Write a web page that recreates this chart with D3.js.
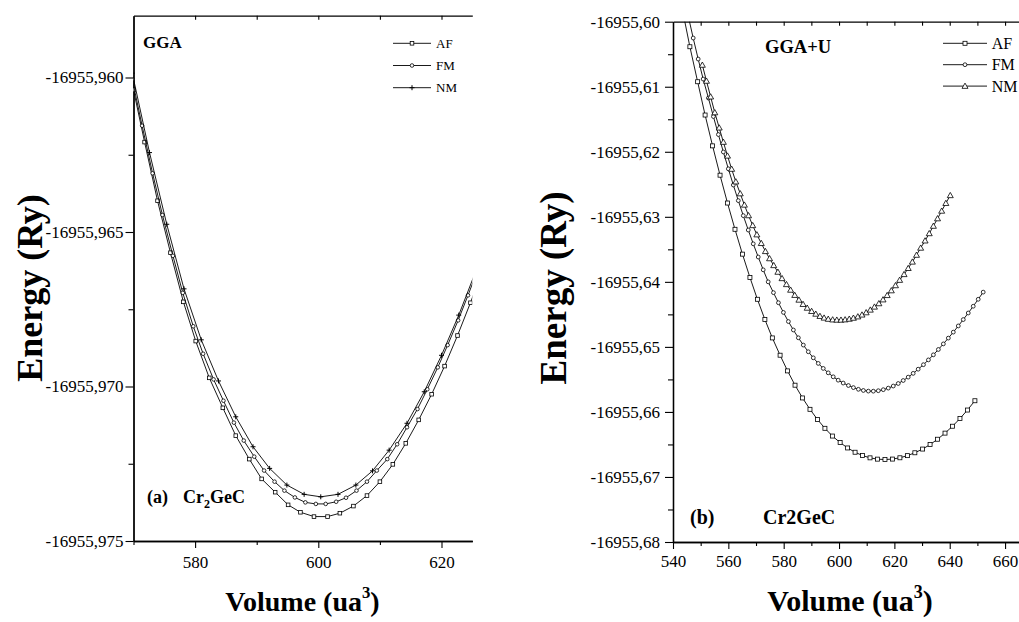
<!DOCTYPE html>
<html>
<head>
<meta charset="utf-8">
<script src="https://cdn.jsdelivr.net/npm/d3@7"></script>
<style>
  body { margin: 0; background: #fff; }
  svg { display: block; }
  text { font-family: "Liberation Serif", "Times New Roman", serif; fill: #000; }
</style>
</head>
<body>
<svg></svg>
<script>
// ---- data, panel (a) GGA ----
const legendNames = ["AF", "FM", "NM"];

const ggaVolAF = [570.0, 571.8, 573.9, 576.0, 578.1, 580.1, 582.3, 584.5, 586.6, 588.8, 590.8, 593.0, 595.1, 597.1,
  599.3, 601.5, 603.5, 605.7, 607.9, 610.0, 612.1, 614.2, 616.3, 618.4, 620.5, 622.6, 624.7, 626.8];
const ggaEnAF = [-16955.96040, -16955.96209, -16955.96399, -16955.96567, -16955.96726, -16955.96853, -16955.96972,
  -16955.97069, -16955.97159, -16955.97235, -16955.97299, -16955.97342, -16955.97383, -16955.97407, -16955.97421,
  -16955.97421, -16955.97410, -16955.97387, -16955.97353, -16955.97308, -16955.97252, -16955.97184, -16955.97108,
  -16955.97025, -16955.96934, -16955.96835, -16955.96729, -16955.96617];

const ggaVolFM = [569.8, 571.4, 573.1, 574.7, 576.4, 578.0, 579.7, 581.3, 583.0, 584.6, 586.3, 587.9, 589.6, 591.2,
  592.9, 594.5, 596.2, 597.9, 599.6, 601.2, 602.9, 604.5, 606.2, 607.9, 609.5, 611.2, 612.8, 614.4, 616.1, 617.7,
  619.4, 621.0, 622.7, 624.3, 626.0];
const ggaEnFM = [-16955.96006, -16955.96156, -16955.96310, -16955.96445, -16955.96577, -16955.96697, -16955.96805,
  -16955.96894, -16955.96977, -16955.97046, -16955.97117, -16955.97175, -16955.97227, -16955.97272, -16955.97308,
  -16955.97337, -16955.97359, -16955.97375, -16955.97380, -16955.97380, -16955.97373, -16955.97360, -16955.97337,
  -16955.97308, -16955.97272, -16955.97235, -16955.97187, -16955.97132, -16955.97073, -16955.97009, -16955.96938,
  -16955.96866, -16955.96786, -16955.96705, -16955.96616];

const ggaVolNM = [569.8, 572.6, 575.4, 578.2, 581.0, 583.8, 586.6, 589.4, 592.1, 594.9, 597.7, 600.4, 603.2, 606.1,
  608.8, 611.5, 614.4, 617.2, 620.0, 622.8, 625.6];
const ggaEnNM = [-16955.95986, -16955.96243, -16955.96475, -16955.96684, -16955.96849, -16955.96982, -16955.97098,
  -16955.97195, -16955.97265, -16955.97319, -16955.97349, -16955.97357, -16955.97349, -16955.97319, -16955.97273,
  -16955.97206, -16955.97119, -16955.97017, -16955.96899, -16955.96769, -16955.96625];

const ggaXMajor = [580, 600, 620];
const ggaXMinor = [570, 590, 610];
const ggaXTop = [580, 590, 600, 610, 620];
const ggaYMajor = [-16955.960, -16955.965, -16955.970, -16955.975];
const ggaYMinor = [-16955.9625, -16955.9675, -16955.9725];

// ---- data, panel (b) GGA+U ----
const ggauVolAF = [543.4, 546.1, 548.9, 551.6, 554.3, 557.0, 559.7, 562.4, 565.1, 567.8, 570.5, 573.2, 575.9, 578.7,
  581.4, 584.1, 586.8, 589.5, 592.2, 594.9, 597.6, 600.4, 603.1, 605.8, 608.5, 611.2, 613.9, 616.6, 619.3, 622.0,
  624.7, 627.4, 630.2, 632.9, 635.6, 638.3, 641.0, 643.7, 646.4, 649.1];
const ggauEnAF = [-16955.59815, -16955.60385, -16955.60923, -16955.61435, -16955.61909, -16955.62360, -16955.62788,
  -16955.63192, -16955.63574, -16955.63932, -16955.64268, -16955.64578, -16955.64862, -16955.65128, -16955.65369,
  -16955.65589, -16955.65785, -16955.65960, -16955.66115, -16955.66252, -16955.66371, -16955.66471, -16955.66554,
  -16955.66620, -16955.66671, -16955.66706, -16955.66726, -16955.66732, -16955.66725, -16955.66705, -16955.66672,
  -16955.66628, -16955.66571, -16955.66502, -16955.66420, -16955.66326, -16955.66220, -16955.66102, -16955.65971,
  -16955.65828];

const ggauVolFM = [545.5, 547.3, 549.1, 550.9, 552.8, 554.6, 556.4, 558.2, 560.0, 561.8, 563.6, 565.4, 567.2, 569.0,
  570.8, 572.6, 574.4, 576.3, 578.1, 579.9, 581.7, 583.5, 585.3, 587.1, 588.9, 590.7, 592.5, 594.3, 596.1, 597.9,
  599.7, 601.5, 603.4, 605.2, 607.0, 608.8, 610.6, 612.4, 614.2, 616.0, 617.8, 619.6, 621.4, 623.2, 625.0, 626.8,
  628.6, 630.5, 632.3, 634.1, 635.9, 637.7, 639.5, 641.3, 643.1, 644.9, 646.7, 648.5, 650.3, 652.1];
const ggauEnFM = [-16955.59912, -16955.60251, -16955.60574, -16955.60882, -16955.61174, -16955.61458, -16955.61735,
  -16955.62003, -16955.62262, -16955.62511, -16955.62751, -16955.62982, -16955.63203, -16955.63415, -16955.63618,
  -16955.63815, -16955.64000, -16955.64166, -16955.64321, -16955.64470, -16955.64610, -16955.64740, -16955.64860,
  -16955.64972, -16955.65075, -16955.65168, -16955.65254, -16955.65331, -16955.65399, -16955.65460, -16955.65512,
  -16955.65556, -16955.65594, -16955.65626, -16955.65652, -16955.65670, -16955.65680, -16955.65681, -16955.65674,
  -16955.65658, -16955.65634, -16955.65602, -16955.65563, -16955.65517, -16955.65465, -16955.65407, -16955.65343,
  -16955.65274, -16955.65200, -16955.65122, -16955.65040, -16955.64954, -16955.64865, -16955.64773, -16955.64678,
  -16955.64580, -16955.64479, -16955.64375, -16955.64268, -16955.64158];

const ggauVolNM = [550.6, 552.1, 553.6, 555.1, 556.7, 558.2, 559.7, 561.2, 562.7, 564.3, 565.8, 567.3, 568.8, 570.3,
  571.9, 573.4, 574.9, 576.4, 577.9, 579.4, 581.0, 582.5, 584.0, 585.5, 587.0, 588.5, 590.1, 591.6, 593.1, 594.6,
  596.1, 597.7, 599.2, 600.7, 602.2, 603.7, 605.2, 606.8, 608.3, 609.8, 611.3, 612.8, 614.4, 615.9, 617.4, 618.9,
  620.4, 621.9, 623.5, 625.0, 626.5, 628.0, 629.5, 631.1, 632.6, 634.1, 635.6, 637.1, 638.6, 640.2];
const ggauEnNM = [-16955.60666, -16955.60912, -16955.61154, -16955.61397, -16955.61631, -16955.61851, -16955.62063,
  -16955.62266, -16955.62460, -16955.62643, -16955.62817, -16955.62980, -16955.63132, -16955.63274, -16955.63407,
  -16955.63531, -16955.63641, -16955.63747, -16955.63849, -16955.63947, -16955.64039, -16955.64125, -16955.64205,
  -16955.64278, -16955.64344, -16955.64402, -16955.64452, -16955.64494, -16955.64528, -16955.64554, -16955.64572,
  -16955.64582, -16955.64586, -16955.64586, -16955.64581, -16955.64571, -16955.64556, -16955.64535, -16955.64507,
  -16955.64472, -16955.64431, -16955.64385, -16955.64333, -16955.64274, -16955.64207, -16955.64134, -16955.64056,
  -16955.63973, -16955.63885, -16955.63791, -16955.63693, -16955.63588, -16955.63479, -16955.63368, -16955.63256,
  -16955.63142, -16955.63027, -16955.62910, -16955.62791, -16955.62671];

const ggauXMajor = [540, 560, 580, 600, 620, 640, 660];
const ggauXMinor = [550, 570, 590, 610, 630, 650];
const ggauXTop = [550, 560, 570, 580, 590, 600, 610, 620, 630, 640, 650, 660];
const ggauYMajor = [-16955.60, -16955.61, -16955.62, -16955.63, -16955.64, -16955.65, -16955.66, -16955.67, -16955.68];
const ggauYMinor = [-16955.605, -16955.615, -16955.625, -16955.635, -16955.645, -16955.655, -16955.665, -16955.675];

// ---- drawing ----
const serif = '"Liberation Serif", "Times New Roman", serif';
let svg = d3.select("svg").attr("width", 1019).attr("height", 622);

function drawMarker(sel, type, cx, cy, size) {
    if (type === "square") {
        sel.append("rect")
            .attr("x", cx - size / 2).attr("y", cy - size / 2)
            .attr("width", size).attr("height", size)
            .style("fill", "#fff").style("stroke", "#000").style("stroke-width", 0.8);
    } else if (type === "circle") {
        sel.append("circle")
            .attr("cx", cx).attr("cy", cy).attr("r", size / 2)
            .style("fill", "#fff").style("stroke", "#000").style("stroke-width", 0.8);
    } else if (type === "plus") {
        const h = size / 2;
        sel.append("path")
            .attr("d", `M${cx - h},${cy}H${cx + h}M${cx},${cy - h}V${cy + h}`)
            .style("stroke", "#000").style("stroke-width", 1);
    } else if (type === "triangle") {
        const h = size / 2;
        sel.append("path")
            .attr("d", `M${cx},${cy - h}L${cx + h},${cy + h * 0.75}L${cx - h},${cy + h * 0.75}Z`)
            .style("fill", "#fff").style("stroke", "#000").style("stroke-width", 0.8);
    }
}

function styleAxis(g, fontSize) {
    g.attr("font-family", serif);
    g.select(".domain").style("stroke", "#000").style("stroke-width", 1.3);
    g.selectAll(".tick line").style("stroke", "#000").style("stroke-width", 1.1);
    g.selectAll(".tick text")
        .style("font-family", serif)
        .style("font-size", fontSize + "px").style("fill", "#000");
}

function drawPanel(p) {
    const x = d3.scaleLinear().domain(p.xDomain).range([p.left, p.right]);
    const y = d3.scaleLinear().domain(p.yDomain).range([p.bottom, p.top]);

    // axes
    const bottom = svg.append("g").attr("transform", `translate(0,${p.bottom})`)
        .call(d3.axisBottom(x).tickValues(p.xMajor).tickSize(7).tickSizeOuter(0).tickPadding(p.xPad)
            .tickFormat(d3.format("d")));
    styleAxis(bottom, 17);
    const bottomMinor = svg.append("g").attr("transform", `translate(0,${p.bottom})`)
        .call(d3.axisBottom(x).tickValues(p.xMinor).tickSize(4).tickSizeOuter(0).tickFormat(""));
    styleAxis(bottomMinor, 17);

    const top = svg.append("g").attr("transform", `translate(0,${p.top})`)
        .call(d3.axisTop(x).tickValues(p.xTop).tickSize(-4).tickSizeOuter(0).tickFormat(""));
    styleAxis(top, 17);

    const left = svg.append("g").attr("transform", `translate(${p.left},0)`)
        .call(d3.axisLeft(y).tickValues(p.yMajor).tickSize(8).tickSizeOuter(0).tickPadding(p.yPad)
            .tickFormat((d) => d.toFixed(p.yDigits).replace(".", ",")));
    styleAxis(left, 17);
    const leftMinor = svg.append("g").attr("transform", `translate(${p.left},0)`)
        .call(d3.axisLeft(y).tickValues(p.yMinor).tickSize(5).tickSizeOuter(0).tickFormat(""));
    styleAxis(leftMinor, 17);

    // curves
    svg.append("clipPath").attr("id", p.id + "-clip")
        .append("rect")
        .attr("x", p.left).attr("y", p.top)
        .attr("width", p.right - p.left).attr("height", p.bottom - p.top);
    const plot = svg.append("g").attr("clip-path", `url(#${p.id}-clip)`);
    const line = d3.line().x((d) => x(d[0])).y((d) => y(d[1]));

    p.series.forEach((s) => {
        const pts = s.vol.map((v, i) => [v, s.en[i]]);
        plot.append("path").attr("d", line(pts))
            .style("fill", "none").style("stroke", "#000").style("stroke-width", 0.9);
        pts.forEach((d) => drawMarker(plot, s.marker, x(d[0]), y(d[1]), s.size));
    });

    // legend
    const lg = p.legend;
    p.series.forEach((s, i) => {
        const ly = lg.y + i * lg.dy;
        svg.append("line").attr("x1", lg.x1).attr("x2", lg.x2).attr("y1", ly).attr("y2", ly)
            .style("stroke", "#000").style("stroke-width", 0.9);
        drawMarker(svg, s.marker, lg.xm, ly, s.size);
        svg.append("text").attr("x", lg.xt).attr("y", ly + lg.font * 0.35)
            .style("font-size", lg.font + "px").text(legendNames[i]);
    });
}

drawPanel({
    id: "gga",
    xDomain: [570, 625], yDomain: [-16955.975, -16955.958],
    left: 133.5, right: 472.3, top: 15.7, bottom: 541,
    xMajor: ggaXMajor, xMinor: ggaXMinor, xTop: ggaXTop,
    yMajor: ggaYMajor, yMinor: ggaYMinor, yDigits: 3,
    xPad: 8, yPad: 2,
    series: [
        { vol: ggaVolAF, en: ggaEnAF, marker: "square", size: 3.6 },
        { vol: ggaVolFM, en: ggaEnFM, marker: "circle", size: 3.6 },
        { vol: ggaVolNM, en: ggaEnNM, marker: "plus", size: 5 }
    ],
    legend: { x1: 393, x2: 431, xm: 412, xt: 436, y: 43.3, dy: 22.2, font: 13 }
});

drawPanel({
    id: "ggau",
    xDomain: [540, 665], yDomain: [-16955.68, -16955.60],
    left: 673, right: 1018.9, top: 21.7, bottom: 542,
    xMajor: ggauXMajor, xMinor: ggauXMinor, xTop: ggauXTop,
    yMajor: ggauYMajor, yMinor: ggauYMinor, yDigits: 2,
    xPad: 6, yPad: 5,
    series: [
        { vol: ggauVolAF, en: ggauEnAF, marker: "square", size: 4 },
        { vol: ggauVolFM, en: ggauEnFM, marker: "circle", size: 3.8 },
        { vol: ggauVolNM, en: ggauEnNM, marker: "triangle", size: 6 }
    ],
    legend: { x1: 943, x2: 987, xm: 965, xt: 991.7, y: 43.3, dy: 21.4, font: 16 }
});

// ---- texts ----
svg.append("text").attr("x", 143).attr("y", 48)
    .style("font-size", "17px").style("font-weight", "bold").text("GGA");
svg.append("text").attr("x", 765).attr("y", 53)
    .style("font-size", "18.5px").style("font-weight", "bold").text("GGA+U");

svg.append("text").attr("x", 147).attr("y", 503)
    .style("font-size", "18px").style("font-weight", "bold").text("(a)");
let crA = svg.append("text").attr("x", 183).attr("y", 503)
    .style("font-size", "18px").style("font-weight", "bold");
crA.append("tspan").text("Cr");
crA.append("tspan").attr("dy", 5).style("font-size", "12px").text("2");
crA.append("tspan").attr("dy", -5).text("GeC");

svg.append("text").attr("x", 690).attr("y", 524)
    .style("font-size", "20px").style("font-weight", "bold").text("(b)");
svg.append("text").attr("x", 763).attr("y", 524)
    .style("font-size", "20px").style("font-weight", "bold").text("Cr2GeC");

function volumeTitle(cx, size) {
    const t = svg.append("text").attr("x", cx).attr("y", 611).attr("text-anchor", "middle")
        .style("font-size", size + "px").style("font-weight", "bold");
    t.append("tspan").text("Volume (ua");
    t.append("tspan").attr("dy", -size * 0.45).style("font-size", (size * 0.6) + "px").text("3");
    t.append("tspan").attr("dy", size * 0.45).text(")");
}
volumeTitle(302.5, 28);
volumeTitle(850, 30);

svg.append("text").attr("transform", "translate(42,288) rotate(-90)").attr("text-anchor", "middle")
    .style("font-size", "36px").style("font-weight", "bold").text("Energy (Ry)");
svg.append("text").attr("transform", "translate(566,288) rotate(-90)").attr("text-anchor", "middle")
    .style("font-size", "37px").style("font-weight", "bold").text("Energy (Ry)");
</script>
</body>
</html>
